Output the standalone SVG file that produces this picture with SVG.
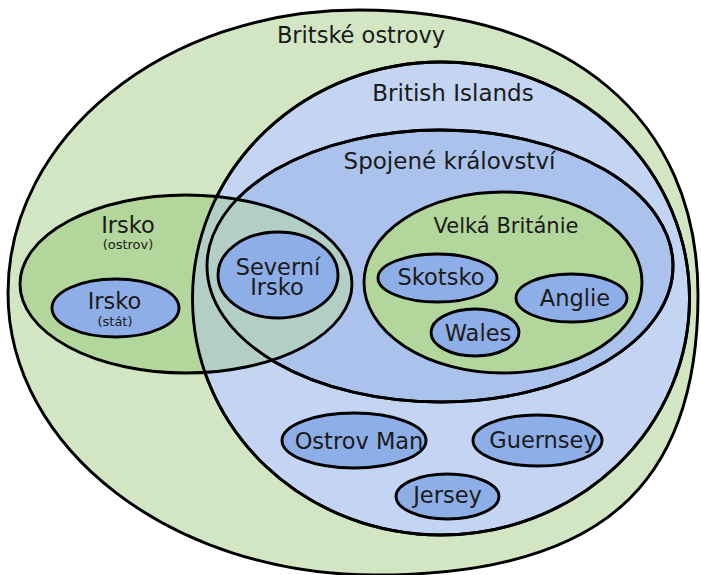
<svg xmlns="http://www.w3.org/2000/svg" width="701" height="575" viewBox="0 0 701 575">
<defs>
<style>
.ln{stroke:#000;stroke-width:2.9;}
.nf{fill:none;stroke:#000;stroke-width:2.9;}
.g1{fill:#d3e6c3;}
.g2{fill:#b3d69c;}
.b1{fill:#c3d5f3;}
.b2{fill:#aac2ec;}
.b3{fill:#8eaee7;}
.ov{fill:#b3cfc5;}
text{font-family:"DejaVu Sans",sans-serif;fill:#1a1a1a;text-anchor:middle;}
.t{font-size:22.5px;}
.s{font-size:13px;}
</style>
<clipPath id="clipBI"><ellipse cx="441" cy="298.5" rx="248.5" ry="236.5"/></clipPath>
</defs>
<rect width="701" height="575" fill="#fff"/>
<g id="britske-ostrovy">
<path class="g1 ln" d="M358,10 C568.8,10 698,118.3 698,295 C698,488.2 597.9,575 375,575 C172.3,575 8,448.7 8,293 C8,136.7 164.7,10 358,10 Z"/>
<text class="t" x="361" y="42.5">Britské ostrovy</text>
</g>
<g id="british-islands">
<ellipse class="b1 ln" cx="441" cy="298.5" rx="248.5" ry="236.5"/>
<text class="t" x="453" y="101" style="font-size:23px">British Islands</text>
</g>
<g id="spojene-kralovstvi">
<ellipse class="b2 ln" cx="440" cy="266" rx="233" ry="136"/>
<text class="t" x="449.5" y="168.5" style="font-size:23px">Spojené království</text>
</g>
<g id="irsko-ostrov">
<ellipse class="g2" cx="186" cy="284" rx="166" ry="89"/>
<ellipse class="ov" cx="186" cy="284" rx="166" ry="89" clip-path="url(#clipBI)"/>
<ellipse class="nf" cx="441" cy="298.5" rx="248.5" ry="236.5"/>
<ellipse class="nf" cx="440" cy="266" rx="233" ry="136"/>
<ellipse class="nf" cx="186" cy="284" rx="166" ry="89"/>
<text class="t" x="128" y="232.5">Irsko</text>
<text class="s" x="128" y="249">(ostrov)</text>
</g>
<g id="irsko-stat">
<ellipse class="b3 ln" cx="115.5" cy="308" rx="63.5" ry="29"/>
<text class="t" x="114.5" y="308.5">Irsko</text>
<text class="s" x="115" y="325.5">(stát)</text>
</g>
<g id="severni-irsko">
<ellipse class="b3 ln" cx="278" cy="275" rx="60" ry="43"/>
<text class="t" x="278" y="274.5">Severní</text>
<text class="t" x="277" y="295">Irsko</text>
</g>
<g id="velka-britanie">
<ellipse class="g2 ln" cx="503" cy="282.5" rx="139" ry="90.5"/>
<text class="t" x="506" y="232.5" style="font-size:21px">Velká Británie</text>
</g>
<g id="skotsko">
<ellipse class="b3 ln" cx="437.5" cy="278" rx="59.5" ry="24"/>
<text class="t" x="441" y="284.5">Skotsko</text>
</g>
<g id="anglie">
<ellipse class="b3 ln" cx="571.5" cy="298" rx="55.5" ry="24"/>
<text class="t" x="575" y="306">Anglie</text>
</g>
<g id="wales">
<ellipse class="b3 ln" cx="475" cy="332.5" rx="44" ry="23.5"/>
<text class="t" x="478" y="340.5">Wales</text>
</g>
<g id="ostrov-man">
<ellipse class="b3" cx="354" cy="440.5" rx="72" ry="27.5"/>
<text class="t" x="359" y="448.5">Ostrov Man</text>
<ellipse class="nf" cx="354" cy="440.5" rx="72" ry="27.5"/>
</g>
<g id="guernsey">
<ellipse class="b3" cx="537.5" cy="440.5" rx="64.5" ry="25.5"/>
<text class="t" x="543" y="448">Guernsey</text>
<ellipse class="nf" cx="537.5" cy="440.5" rx="64.5" ry="25.5"/>
</g>
<g id="jersey">
<ellipse class="b3 ln" cx="447.5" cy="496.5" rx="51.5" ry="22.5"/>
<text class="t" x="447.5" y="503">Jersey</text>
</g>
<g id="connectors"></g>
</svg>
